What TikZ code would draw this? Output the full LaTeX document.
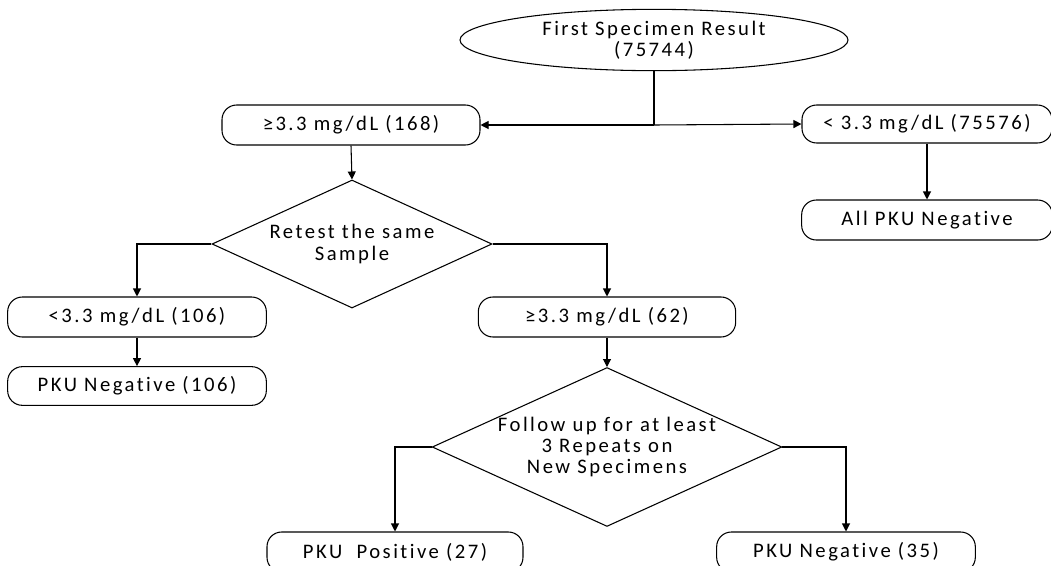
\documentclass[tikz,border=0pt]{standalone}
\usepackage{fontspec}
\setmainfont{Carlito}[LetterSpace=12,Ligatures={NoCommon,NoRequired,NoContextual}]
\usetikzlibrary{shapes.geometric,arrows.meta}
\begin{document}
\begin{tikzpicture}[x=0.75pt,y=-0.75pt,
  every node/.style={font=\fontsize{15.5pt}{15.8pt}\selectfont, text=black},
  box/.style={draw, line width=0.8pt, rounded corners=11pt, inner sep=0pt, align=center, minimum height=30pt},
  dec/.style={draw, line width=0.8pt, diamond, inner sep=0pt, align=center},
  arr/.style={line width=0.8pt, -{Triangle[length=6pt,width=6pt]}},
  ln/.style={line width=0.8pt}]
\useasboundingbox (0,0) rectangle (1051,565);
\fill[white] (0,0) rectangle (1051,565);
\clip (0,0) rectangle (1051,565);

\node[draw, line width=0.8pt, ellipse, inner sep=0pt, align=center, minimum width=291pt, minimum height=46pt] (start) at (654,40) {First Specimen Result\\(75744)};
\node[box, minimum width=193.5pt] (b168) at (351,125) {≥3.3 mg/dL (168)};
\node[box, minimum width=187.5pt, minimum height=28.5pt] (b75576) at (927,124) {< 3.3 mg/dL (75576)};
\node[box, minimum width=188pt] (ball) at (927,220) {All PKU Negative};
\node[dec, minimum width=210pt, minimum height=96pt, aspect=2.2] (d1) at (352,244) {Retest the same\\Sample};
\node[box, minimum width=194pt] (b106) at (137,317) {<3.3 mg/dL (106)};
\node[box, minimum width=194pt, minimum height=29pt] (n106) at (137,386) {PKU Negative (106)};
\node[box, minimum width=193pt] (b62) at (607,317) {≥3.3 mg/dL (62)};
\node[dec, minimum width=260pt, minimum height=118.5pt, aspect=2.2] (d2) at (607,447) {Follow up for at least\\3 Repeats on\\New Specimens};
\node[box, minimum width=192pt] (pos) at (395,552) {PKU~ Positive (27)};
\node[box, minimum width=194pt] (n35) at (846,552) {PKU Negative (35)};

\coordinate (j) at (start.south |- b168.east);
\draw[ln] (start.south) -- (j);
\draw[arr] (j) -- (b168.east);
\draw[arr] (j) -- (b75576.west);
\draw[arr] (b75576.south) -- (ball.north);
\draw[arr] (b168.south) -- (d1.north);
\draw[arr] (d1.west) -| (b106.north);
\draw[arr] (d1.east) -| (b62.north);
\draw[arr] (b106.south) -- (n106.north);
\draw[arr] (b62.south) -- (d2.north);
\draw[arr] (d2.west) -| (pos.north);
\draw[arr] (d2.east) -| (n35.north);
\end{tikzpicture}
\end{document}
